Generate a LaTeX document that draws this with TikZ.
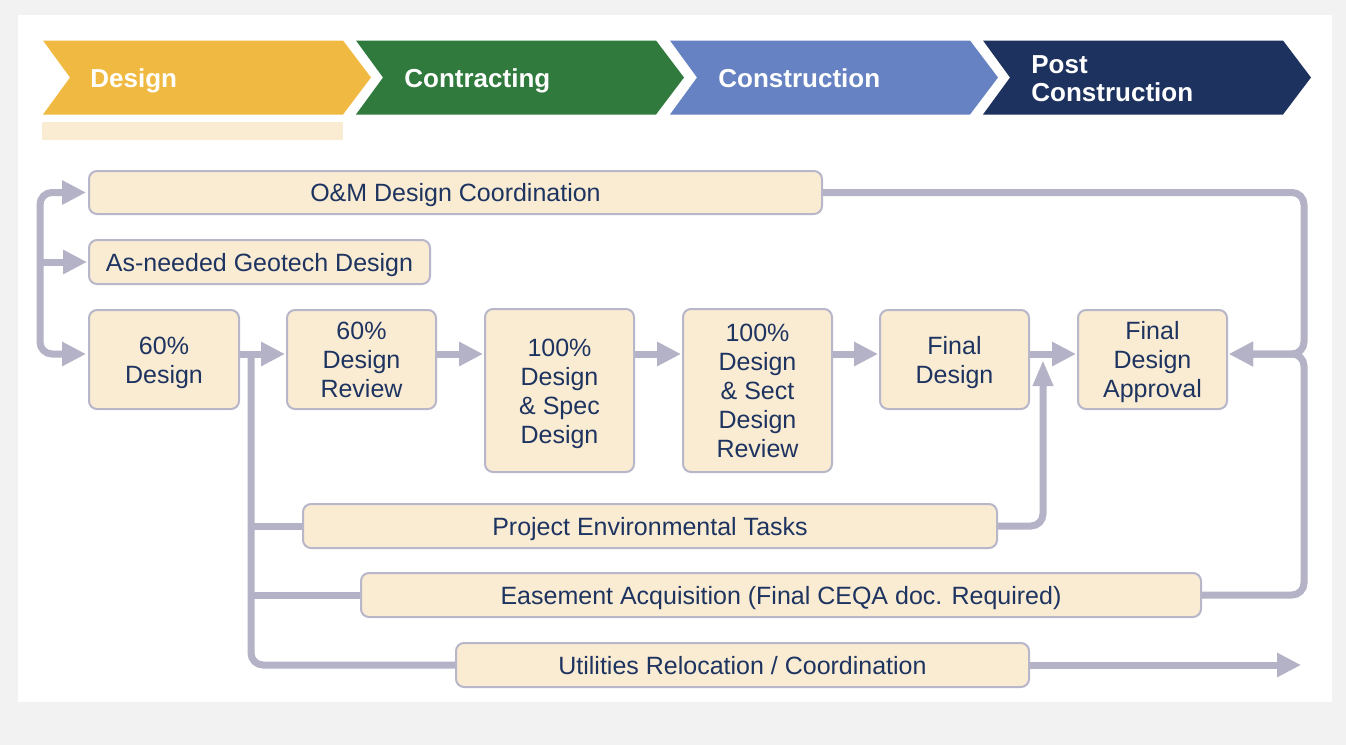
\documentclass[tikz,border=0pt]{standalone}
\usepackage{fontspec}
\setmainfont{Liberation Sans}
\usetikzlibrary{arrows.meta}
\definecolor{bggray}{HTML}{F2F2F2}
\definecolor{cream}{HTML}{FAEBD3}
\definecolor{boxborder}{HTML}{B8B7CA}
\definecolor{linegray}{HTML}{B3B2C6}
\definecolor{navy}{HTML}{1E3460}
\definecolor{cDesign}{HTML}{F0BA42}
\definecolor{cContract}{HTML}{2F7A3C}
\definecolor{cConstr}{HTML}{6682C2}
\definecolor{cPost}{HTML}{1D325E}
\tikzset{
  box/.style={draw=boxborder, line width=1pt, fill=cream, rounded corners=4pt,
    inner sep=0pt, align=center, text=navy, text height=9pt, text depth=0pt,
    font=\fontsize{12.5}{14.5}\selectfont},
  conn/.style={draw=linegray, line width=3.5pt, rounded corners=6pt},
  tip/.style={-{Triangle[length=12pt,width=11.5pt]}, shorten >=0.5pt},
  phase/.style={anchor=west, text=white, align=left, inner sep=0pt,
    text height=9.3pt, text depth=0pt,
    font=\bfseries\fontsize{13}{14}\selectfont},
}
\begin{document}
\begin{tikzpicture}[x=0.5pt,y=-0.5pt]
% background
\fill[bggray] (0,0) rectangle (1346,745);
\fill[white] (18,15) rectangle (1332,702);
\useasboundingbox (0,0) rectangle (1346,745);
% phase chevrons
\foreach \xo/\col in {43/cDesign,356/cContract,670/cConstr,983/cPost}{
  \fill[\col] (\xo,40.5) -- (\xo+300,40.5) -- (\xo+328,77.5) -- (\xo+300,114.5)
     -- (\xo,114.5) -- (\xo+27,77.5) -- cycle;
}
\fill[cream] (42,122) rectangle (343,140);
\node[phase] (phD) at (90,78) {Design};
\node[phase] (phC) at (404,78) {Contracting};
\node[phase] (phK) at (718,78) {Construction};
\node[phase, text height=23.3pt] (phP) at (1031,78) {Post\\Construction};
% boxes
\node[box, minimum width=366.5pt, minimum height=21.5pt] (om) at (455.5,192.5) {O\&M Design Coordination};
\node[box, minimum width=170.5pt, minimum height=22pt] (geo) at (259.5,262) {As-needed Geotech Design};
\node[box, text height=23.5pt, minimum width=75pt, minimum height=49.5pt] (d60) at (164,359.5) {60\%\\Design};
\node[box, text height=38pt, minimum width=74.5pt, minimum height=49.5pt] (r60) at (361.5,359.5) {60\%\\Design\\Review};
\node[box, text height=52.5pt, minimum width=74.5pt, minimum height=81.5pt] (ds100) at (559.5,390.5) {100\%\\Design\\\& Spec\\Design};
\node[box, text height=67pt, minimum width=74.5pt, minimum height=81.5pt] (dsr100) at (757.5,390.5) {100\%\\Design\\\& Sect\\Design\\Review};
\node[box, text height=23.5pt, minimum width=74.5pt, minimum height=49.5pt] (fd) at (954.5,359.5) {Final\\Design};
\node[box, text height=38pt, minimum width=74.5pt, minimum height=49.5pt] (fda) at (1152.5,359.5) {Final\\Design\\Approval};
\node[box, minimum width=347pt, minimum height=22pt] (env) at (650,526) {Project Environmental Tasks};
\node[box, minimum width=420pt, minimum height=22pt] (ease) at (781,595) {Easement Acquisition (Final CEQA doc. Required)};
\node[box, minimum width=286.5pt, minimum height=22pt] (util) at (742.5,665) {Utilities Relocation / Coordination};
% helper coordinates
\coordinate (row) at (0,354);
\coordinate (busL) at (40,0);
\coordinate (busM) at (251,0);
\coordinate (busE) at (1043,0);
\coordinate (busR) at (1304,0);
\coordinate (uend) at (1302,0);
% left bus
\draw[conn, {Triangle[length=12pt,width=11.5pt]}-{Triangle[length=12pt,width=11.5pt]}, shorten <=1pt, shorten >=1pt]
  (om.west) -- (busL |- om.west) -- (busL |- row) -- (d60.west |- row);
\draw[conn, tip] (busL |- geo.west) -- (geo.west);
% main row
\draw[conn, tip] (d60.east |- row) -- (r60.west |- row);
\draw[conn, tip] (r60.east |- row) -- (ds100.west |- row);
\draw[conn, tip] (ds100.east |- row) -- (dsr100.west |- row);
\draw[conn, tip] (dsr100.east |- row) -- (fd.west |- row);
\draw[conn, tip] (fd.east |- row) -- (fda.west |- row);
% branch from 60% design
\draw[conn] (busM |- row) -- (busM |- util.west) -- (util.west);
\draw[conn] (busM |- env.west) -- (env.west);
\draw[conn] (busM |- ease.west) -- (ease.west);
% environmental to final design
\draw[conn, -{Triangle[length=13pt,width=9.5pt]}, shorten >=3pt] (env.east) -- (busE |- env.east) -- (busE |- row);
% right returns
\draw[conn, tip] (om.east) -- (busR |- om.east) -- (busR |- row) -- (fda.east |- row);
\draw[conn, tip] (ease.east) -- (busR |- ease.east) -- (busR |- row) -- (fda.east |- row);
% utilities
\draw[conn, tip] (util.east) -- (uend |- util.east);
\end{tikzpicture}
\end{document}
